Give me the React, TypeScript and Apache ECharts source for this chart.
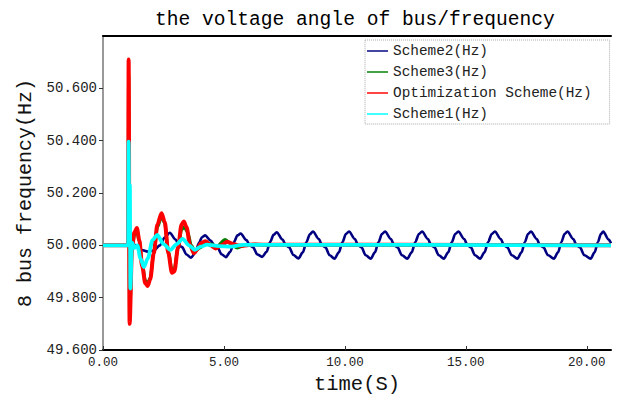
import React, { useEffect, useRef } from "react";
import * as echarts from "echarts";

const title = "the voltage angle of bus/frequency";
const xName = "time(S)";
const yName = "8 bus frequency(Hz)";
const seriesNames = ["Scheme2(Hz)", "Scheme3(Hz)", "Optimization Scheme(Hz)", "Scheme1(Hz)"];
const seriesColors = ["#000080", "#008000", "#ff0000", "#00ffff"];

// Scheme2 (navy): [time, Hz]
const scheme2: number[][] = [
  [0, 50.0], [1.04, 50.0], [1.07, 50.012], [1.14, 49.992], [1.25, 50.006], [1.4, 49.995], [1.6, 49.982],
  [1.85, 49.976], [2.1, 49.98], [2.35, 50.0], [2.55, 50.03], [2.76, 50.048],
  [3.0, 50.022], [3.14, 50.0], [3.27, 49.993], [3.45, 49.965], [3.64, 49.953], [3.82, 49.972], [3.97, 50.01], [4.1, 50.032], [4.22, 50.038],
  [4.45, 50.018], [4.6, 50.0], [4.73, 49.992], [4.9, 49.966], [5.08, 49.955], [5.26, 49.975], [5.41, 50.012], [5.56, 50.038], [5.69, 50.045],
  [5.93, 50.02], [6.07, 50.0], [6.2, 49.993], [6.38, 49.965], [6.58, 49.956], [6.76, 49.975], [6.91, 50.013], [7.05, 50.04], [7.18, 50.05],
  [7.42, 50.022], [7.56, 50.0], [7.69, 49.993], [7.87, 49.963], [8.08, 49.95], [8.26, 49.973], [8.41, 50.013], [8.55, 50.042], [8.68, 50.053],
  [8.92, 50.024], [9.06, 50.0], [9.19, 49.993], [9.37, 49.962], [9.57, 49.949], [9.75, 49.973], [9.9, 50.013], [10.04, 50.043], [10.17, 50.053],
  [10.41, 50.024], [10.55, 50.0], [10.68, 49.993], [10.86, 49.962], [11.07, 49.949], [11.24, 49.973], [11.39, 50.013], [11.53, 50.043], [11.66, 50.053],
  [11.9, 50.024], [12.04, 50.0], [12.17, 49.993], [12.36, 49.962], [12.58, 49.949], [12.76, 49.973], [12.91, 50.013], [13.06, 50.043], [13.19, 50.053],
  [13.43, 50.024], [13.57, 50.0], [13.7, 49.993], [13.88, 49.962], [14.09, 49.949], [14.27, 49.973], [14.42, 50.013], [14.56, 50.043], [14.69, 50.053],
  [14.93, 50.024], [15.07, 50.0], [15.2, 49.993], [15.38, 49.962], [15.59, 49.949], [15.77, 49.973], [15.92, 50.013], [16.07, 50.043], [16.2, 50.053],
  [16.44, 50.024], [16.58, 50.0], [16.71, 49.993], [16.9, 49.962], [17.13, 49.949], [17.3, 49.973], [17.44, 50.013], [17.57, 50.043], [17.69, 50.053],
  [17.93, 50.024], [18.07, 50.0], [18.2, 49.993], [18.4, 49.962], [18.64, 49.949], [18.81, 49.973], [18.95, 50.013], [19.08, 50.043], [19.2, 50.053],
  [19.44, 50.024], [19.58, 50.0], [19.71, 49.993], [19.9, 49.962], [20.16, 49.949], [20.32, 49.973], [20.46, 50.013], [20.58, 50.043], [20.68, 50.053],
  [20.9, 50.022], [21.0, 50.008],
];

// Scheme3 (green)
const scheme3: number[][] = [
  [0, 50.0], [1.04, 50.0], [1.06, 50.65], [1.1, 49.72], [1.2, 49.99], [1.3, 50.04], [1.4, 50.055], [1.5, 50.015],
  [1.62, 49.93], [1.75, 49.865], [1.85, 49.855], [1.95, 49.875], [2.1, 49.97], [2.25, 50.07], [2.42, 50.11],
  [2.55, 50.085], [2.7, 49.975], [2.85, 49.905], [2.95, 49.91], [3.1, 49.99], [3.25, 50.06], [3.36, 50.07],
  [3.5, 50.05], [3.65, 50.0], [3.8, 49.977], [4.0, 49.99], [4.25, 50.012], [4.5, 50.004], [4.7, 49.995],
  [5.05, 50.022], [5.3, 50.005], [5.55, 49.99], [5.85, 50.0], [6.3, 50.004], [7.0, 50.0], [21.0, 50.0],
];

// Optimization Scheme (red)
const optimization: number[][] = [
  [0, 50.0], [1.04, 50.0], [1.06, 50.71], [1.1, 49.7], [1.2, 49.99], [1.3, 50.05], [1.4, 50.066], [1.5, 50.02],
  [1.62, 49.92], [1.75, 49.855], [1.85, 49.845], [1.95, 49.87], [2.1, 49.97], [2.25, 50.08], [2.42, 50.123],
  [2.55, 50.09], [2.7, 49.97], [2.85, 49.895], [2.95, 49.9], [3.1, 49.99], [3.25, 50.08], [3.34, 50.091],
  [3.45, 50.07], [3.6, 50.0], [3.76, 49.97], [3.9, 49.985], [4.05, 50.008], [4.24, 50.016], [4.45, 50.0],
  [4.65, 49.988], [4.9, 50.0], [5.14, 50.014], [5.4, 50.004], [5.7, 49.998], [6.2, 50.003], [7.0, 50.002],
  [12.0, 50.002], [21.0, 50.0],
];

// Scheme1 (cyan)
const scheme1: number[][] = [
  [0, 50.0], [1.04, 50.0], [1.06, 50.396], [1.09, 50.0], [1.11, 50.23], [1.13, 49.835], [1.2, 50.01], [1.3, 49.99],
  [1.42, 50.0], [1.55, 49.95], [1.69, 49.917], [1.85, 49.95], [2.05, 50.02], [2.24, 50.04], [2.5, 50.005],
  [2.79, 49.983], [3.05, 50.005], [3.29, 50.025], [3.55, 50.0], [3.79, 49.983], [4.05, 49.995], [4.3, 50.003],
  [4.8, 49.997], [5.3, 49.995], [5.8, 50.002], [6.5, 50.002], [21.0, 50.0],
];

const seriesData = [scheme2, scheme3, optimization, scheme1];
const lineWidths = [2.6, 3.2, 4, 3.8];

const xTicks = [0, 5, 10, 15, 20];
const yTicks = [49.6, 49.8, 50.0, 50.2, 50.4, 50.6];

const FONT = "Liberation Mono";

export default function App() {
  const ref = useRef<HTMLDivElement>(null);
  useEffect(() => {
    if (!ref.current) return;
    const chart = echarts.init(ref.current, null, { renderer: "svg" });
    chart.setOption({
      animation: false,
      backgroundColor: "#ffffff",
      title: {
        text: title,
        left: 150,
        top: 5,
        textStyle: { fontFamily: FONT, fontSize: 19.6, fontWeight: "normal", color: "#000" },
      },
      legend: {
        orient: "vertical",
        left: 365,
        top: 40,
        itemWidth: 21,
        itemHeight: 14,
        itemGap: 7,
        padding: [4, 18, 3, 2],
        borderColor: "#aaaaaa",
        borderWidth: 1,
        borderType: "dotted",
        backgroundColor: "#ffffff",
        textStyle: { fontFamily: FONT, fontSize: 14.4, color: "#222" },
        data: seriesNames.map((n) => ({ name: n, icon: "path://M0,0 L20,0 L20,1.4 L0,1.4 Z" })),
      },
      grid: { left: 103, right: 19, top: 36, bottom: 51, outerBoundsMode: "none", containLabel: false },
      xAxis: [
        {
          type: "value",
          min: 0,
          max: 21,
          name: xName,
          nameLocation: "middle",
          nameGap: 22,
          nameTextStyle: { fontFamily: FONT, fontSize: 20.5, color: "#111" },
          axisLine: { lineStyle: { color: "#000", width: 2 } },
          axisTick: { inside: true, length: 4, customValues: xTicks, lineStyle: { color: "#333" } },
          axisLabel: {
            fontFamily: FONT,
            fontSize: 12.5,
            color: "#222",
            margin: 6,
            customValues: xTicks,
            formatter: (v: number) => v.toFixed(2),
          },
          splitLine: { show: false },
        },
        {
          type: "value",
          position: "top",
          min: 0,
          max: 21,
          axisLine: { show: true, lineStyle: { color: "#000", width: 2 } },
          axisTick: { show: false },
          axisLabel: { show: false },
          splitLine: { show: false },
        },
      ],
      yAxis: [
        {
          type: "value",
          min: 49.6,
          max: 50.8,
          name: yName,
          nameLocation: "middle",
          nameGap: 61,
          nameTextStyle: { fontFamily: FONT, fontSize: 20, color: "#111" },
          axisLine: { show: true, lineStyle: { color: "#000", width: 2 } },
          axisTick: { show: true, inside: false, length: 4, customValues: yTicks, lineStyle: { color: "#333" } },
          axisLabel: {
            fontFamily: FONT,
            fontSize: 14,
            color: "#222",
            margin: 6,
            customValues: yTicks,
            formatter: (v: number) => v.toFixed(3),
          },
          splitLine: { show: false },
        },
        {
          type: "value",
          position: "right",
          min: 49.6,
          max: 50.8,
          axisLine: { show: true, lineStyle: { color: "#999", width: 2 } },
          axisTick: { show: false },
          axisLabel: { show: false },
          splitLine: { show: false },
        },
      ],
      series: seriesNames.map((name, i) => ({
        name,
        type: "line",
        data: seriesData[i],
        showSymbol: false,
        symbol: "none",
        smooth: 0.3,
        smoothMonotone: "x",
        color: seriesColors[i],
        lineStyle: { color: seriesColors[i], width: lineWidths[i] },
        z: 2 + i,
      })),
    });
    return () => chart.dispose();
  }, []);
  return (
    <div
      ref={ref}
      style={{ position: "absolute", left: 0, top: 0, width: 630, height: 401 }}
    />
  );
}
